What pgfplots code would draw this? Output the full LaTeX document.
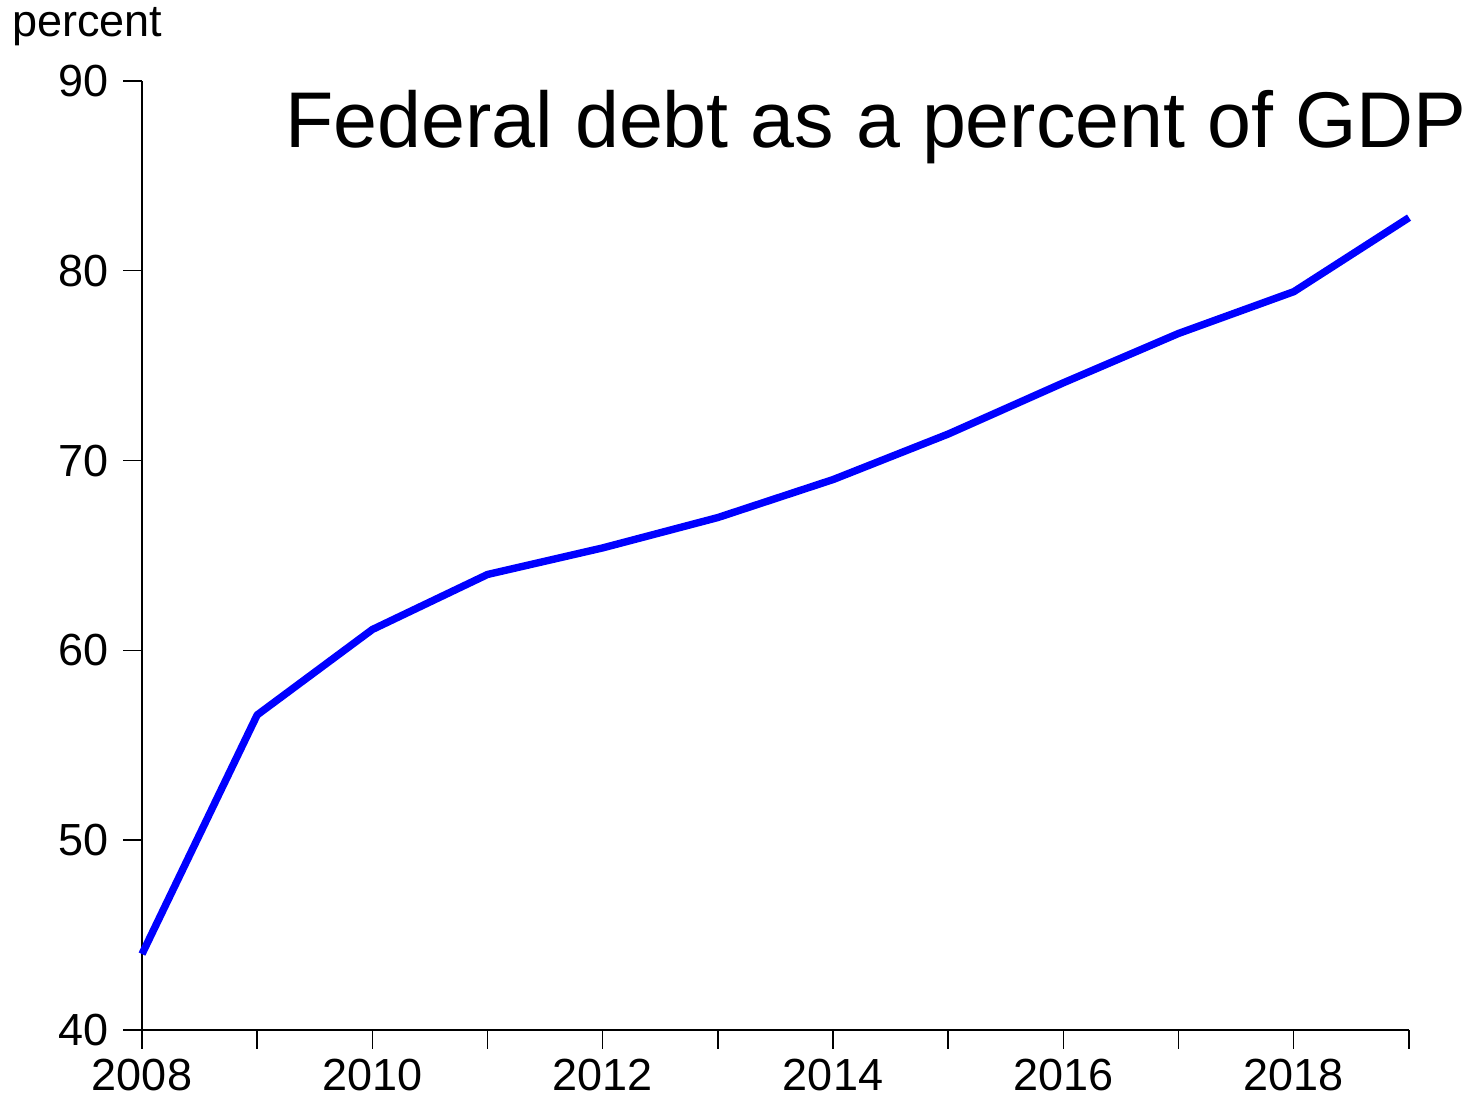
\documentclass[border=0pt]{standalone}
\usepackage{pgfplots}
\pgfplotsset{compat=1.18}
\usepackage{fontspec}
\setmainfont{Liberation Sans}
\begin{document}
\begin{tikzpicture}
\begin{axis}[
  name=ax,
  scale only axis,
  width=633.5pt, height=474.5pt,
  xmin=2008, xmax=2019, ymin=40, ymax=90,
  axis x line*=bottom, axis y line*=left,
  axis line style={-, line width=0.9pt, black},
  xtick={2008,...,2019},
  xticklabels={2008,,2010,,2012,,2014,,2016,,2018,},
  ytick={40,50,...,90},
  tick align=outside,
  major tick length=9.5pt,
  tick style={black, line width=0.7pt},
  tick label style={font=\fontsize{22.5}{27}\selectfont},
  xticklabel style={yshift=-1.5pt},
  yticklabel style={xshift=-3.5pt},
  /pgf/number format/assume math mode=true,
  clip=false,
]
\addplot[blue, line width=3.7pt, line join=round] coordinates {
 (2008,44.0) (2009,56.6) (2010,61.1) (2011,64.0) (2012,65.4) (2013,67.0)
 (2014,69.0) (2015,71.4) (2016,74.1) (2017,76.7) (2018,78.9) (2019,82.8)
};
\end{axis}
\node[anchor=base west, inner sep=0pt, font=\fontsize{39.5}{46}\selectfont] at ([xshift=71.5pt, yshift=-33.5pt] ax.north west) {Federal debt as a percent of GDP};
\node[anchor=base west, inner sep=0pt, font=\fontsize{22.5}{27}\selectfont] at ([xshift=-65pt, yshift=22pt] ax.north west) {percent};
\pgfresetboundingbox
\path ([xshift=-71pt, yshift=-35pt] ax.south west) rectangle ([xshift=36.5pt, yshift=40.5pt] ax.north east);
\end{tikzpicture}
\end{document}
